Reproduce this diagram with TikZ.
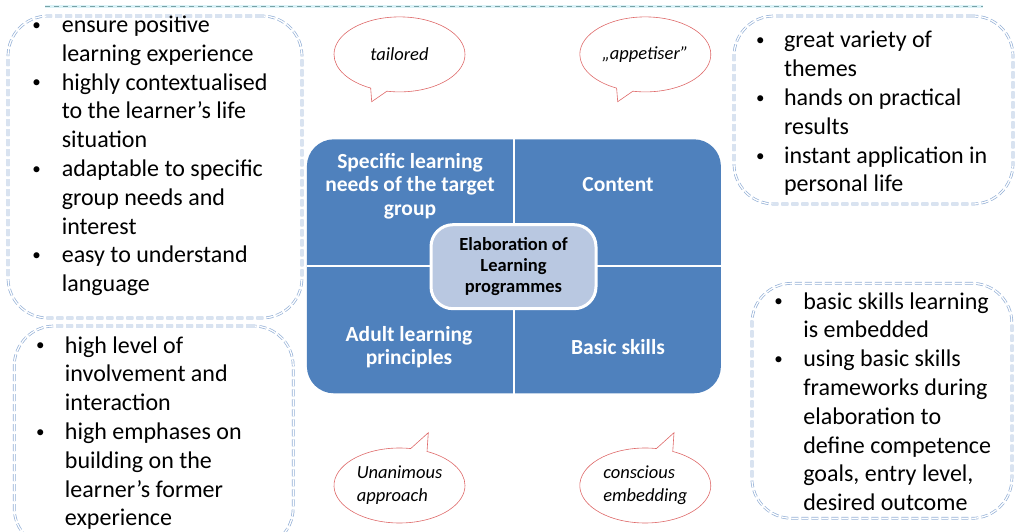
\documentclass[tikz,border=0pt]{standalone}
\usepackage{fontspec}
\setmainfont{Carlito}
\usetikzlibrary{shapes.callouts}
\definecolor{gridblue}{RGB}{79,129,189}
\definecolor{hubfill}{RGB}{185,200,225}
\definecolor{frameblue}{RGB}{148,176,214}
\definecolor{bubblered}{RGB}{222,105,105}
\definecolor{ruleteal}{RGB}{120,162,166}
\definecolor{ruleglow}{RGB}{218,242,247}
\newcommand{\dotbul}{\hspace*{2.5pt}{\fontsize{17}{17}\selectfont\raisebox{2.1pt}{\textbullet}}}

\begin{document}
\begin{tikzpicture}[x=1pt,y=-1pt]
        \tikzstyle{framebox}=[draw=frameblue,line width=0.7pt,double=white,double distance=1.3pt,dash pattern=on 7pt off 3pt,rounded corners=40pt,inner sep=0pt]
        \tikzstyle{bullets}=[anchor=base west,inner sep=0pt,font=\fontsize{24}{28.8}\selectfont]
        \tikzstyle{quad}=[text=white,align=center,font=\bfseries\fontsize{21.5}{23.5}\selectfont]
        \tikzstyle{hub}=[fill=hubfill,draw=white,line width=3pt,rounded corners=22pt,minimum width=165pt,minimum height=84pt,align=center,font=\bfseries\fontsize{18.5}{21}\selectfont]
        \tikzstyle{bubble}=[ellipse callout,draw=bubblered,line width=0.6pt,minimum width=131pt,minimum height=75pt,inner sep=0pt,align=left,font=\itshape\fontsize{18.5}{23}\selectfont]
        \useasboundingbox (0,0) rectangle (1015,532);
        \clip (0,0) rectangle (1015,532);
       % top rule
       \coordinate (rulestart) at (45,6.7);
       \coordinate (ruleend) at (983,6.7);
       \draw[ruleglow,line width=3pt] (rulestart) -- (ruleend);
       \draw[ruleteal,line width=0.8pt,dash pattern=on 5pt off 4pt] (rulestart) -- (ruleend);
       % dashed frames
       \node [framebox,minimum width=294pt,minimum height=302pt] (needsframe) at (155,167) {};
       \node [framebox,minimum width=279pt,minimum height=222pt] (adultframe) at (153.7,437) {};
       \node [framebox,minimum width=279pt,minimum height=188pt] (contentframe) at (873.5,110) {};
       \node [framebox,minimum width=260pt,minimum height=235pt] (skillsframe) at (881.9,400.8) {};
       % central grid
       \begin{scope}
         \node [fill=gridblue,rounded corners=27pt,minimum width=414pt,minimum height=254pt,inner sep=0pt] (grid) at (513.9,266.3) {};
         \draw[white,line width=2pt] (grid.north) -- (grid.south);
         \draw[white,line width=2pt] (grid.west) -- (grid.east);
         \node [quad] (needs) at (410,186) {Specific learning\\needs of the target\\group};
         \node [quad] (content) at (618,185) {Content};
         \node [quad] (adult) at (409,347) {Adult learning\\principles};
         \node [quad] (skills) at (618,347) {Basic skills};
         \node [hub] (hub) at (513.5,266.7) {Elaboration of\\Learning\\programmes};
       \end{scope}
       % speech bubbles
       \coordinate (tailoredtip) at (371.7,101.7);
       \coordinate (appetisertip) at (617.7,101.7);
       \coordinate (unanimoustip) at (428.3,432.7);
       \coordinate (conscioustip) at (674,432.7);
       \node [bubble,callout absolute pointer=(tailoredtip)] (tailored) at (399.5,54.4) {tailored};
       \node [bubble,callout absolute pointer=(appetisertip)] (appetiser) at (645.3,54.4) {„appetiser”};
       \node [bubble,callout absolute pointer=(unanimoustip)] (unanimous) at (399.5,485.5) {Unanimous\\approach};
       \node [bubble,callout absolute pointer=(conscioustip)] (conscious) at (645.3,485.5) {conscious\\embedding};
       % bullet lists
       \node [bullets] (needslist) at (29.6,32.5) {\begin{tabular}[t]{@{}p{32pt}@{}l@{}}
         \dotbul & ensure positive\\
          & learning experience\\
         \dotbul & highly contextualised\\
          & to the learner’s life\\
          & situation\\
         \dotbul & adaptable to specific\\
          & group needs and\\
          & interest\\
         \dotbul & easy to understand\\
          & language
       \end{tabular}};
       \node [bullets] (adultlist) at (33.3,353) {\begin{tabular}[t]{@{}p{31.5pt}@{}l@{}}
         \dotbul & high level of\\
          & involvement and\\
          & interaction\\
         \dotbul & high emphases on\\
          & building on the\\
          & learner’s former\\
          & experience
       \end{tabular}};
       \node [bullets] (contentlist) at (753.3,48) {\begin{tabular}[t]{@{}p{30.5pt}@{}l@{}}
         \dotbul & great variety of\\
          & themes\\
         \dotbul & hands on practical\\
          & results\\
         \dotbul & instant application in\\
          & personal life
       \end{tabular}};
       \node [bullets] (skillslist) at (771.6,309) {\begin{tabular}[t]{@{}p{31.5pt}@{}l@{}}
         \dotbul & basic skills learning\\
          & is embedded\\
         \dotbul & using basic skills\\
          & frameworks during\\
          & elaboration to\\
          & define competence\\
          & goals, entry level,\\
          & desired outcome
       \end{tabular}};
      \end{tikzpicture}
\end{document}
